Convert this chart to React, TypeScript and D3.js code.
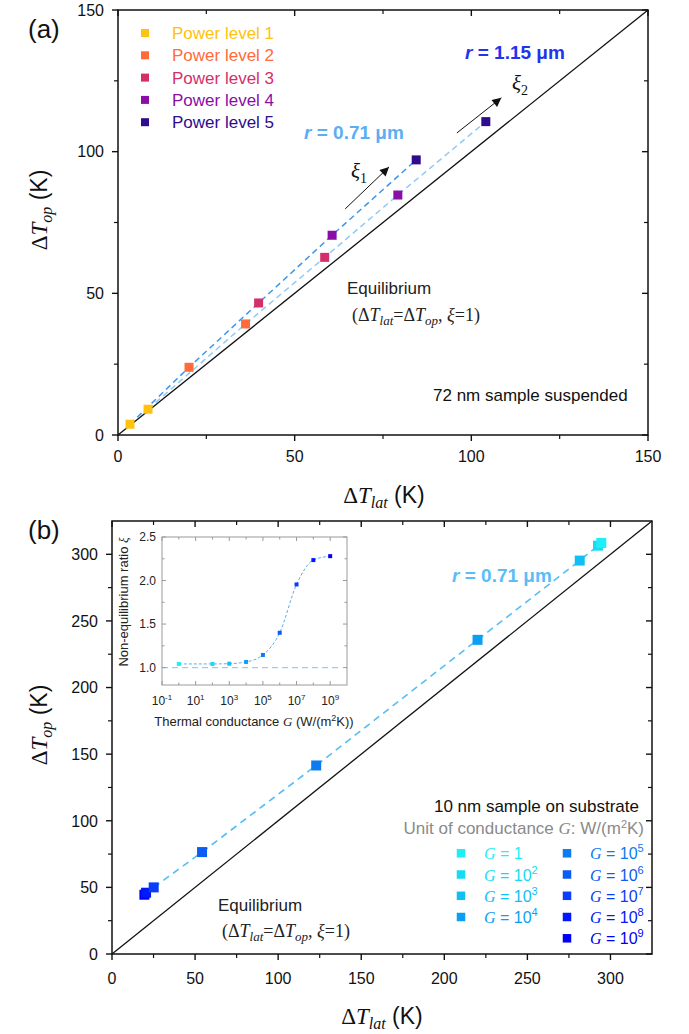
import React from 'react';
import * as d3 from 'd3';

const SANS = "'Liberation Sans', Arial, Helvetica, sans-serif";
const SERIF = "'Liberation Serif', 'Times New Roman', Times, serif";

// ---------- Panel (a) data ----------
const powerLabels = ['Power level 1', 'Power level 2', 'Power level 3', 'Power level 4', 'Power level 5'];
const powerColors = ['#FFC20E', '#FF6B3B', '#D42F6A', '#8A0DA8', '#2E0C8E'];
const r071Lat = [3.4, 20.1, 39.8, 60.6, 84.4];
const r071Op = [3.8, 23.9, 46.6, 70.5, 97.1];
const r115Lat = [8.5, 36.1, 58.5, 79.2, 104.1];
const r115Op = [9.1, 39.2, 62.7, 84.7, 110.6];
const aTicks = [0, 50, 100, 150];
const aMinor = [25, 75, 125];

// ---------- Panel (b) data ----------
const gExponents = [0, 2, 3, 4, 5, 6, 7, 8, 9];
const gColors = ['#1EEFF6', '#16DBF2', '#10C0F5', '#0A9FF2', '#0A7CF0', '#0A5CF5', '#0A3CFA', '#0018FA', '#0000F5'];
const bLat = [294.5, 292.5, 281.5, 220, 122.9, 54.2, 25.1, 20.5, 19.5];
const bOp = [308.5, 306.5, 295.3, 235.8, 141.5, 76.5, 50, 46, 44.5];
const xiRatio = [1.042, 1.042, 1.045, 1.065, 1.145, 1.4, 1.955, 2.235, 2.28];
const bTicks = [0, 50, 100, 150, 200, 250, 300];
const bMinor = [25, 75, 125, 175, 225, 275];
const insetXLabelExps = [-1, 1, 3, 5, 7, 9];
const insetXMinorExps = [0, 2, 4, 6, 8];
const insetYTicks = [1.0, 1.5, 2.0, 2.5];
const insetYMinor = [1.25, 1.75, 2.25];

// scales
const xA = d3.scaleLinear().domain([0, 150]).range([118, 648]);
const yA = d3.scaleLinear().domain([0, 150]).range([435, 10]);
const xB = d3.scaleLinear().domain([0, 325]).range([112, 652]);
const yB = d3.scaleLinear().domain([0, 325]).range([954, 521]);
const xI = d3.scaleLog().domain([1e-1, 1e10]).range([162, 347]);
const yI = d3.scaleLinear().domain([0.8, 2.5]).range([685, 537]);

type Lin = d3.ScaleLinear<number, number>;

function MainFrame({ x, y, ticks, minor, labelY }: { x: Lin; y: Lin; ticks: number[]; minor: number[]; labelY: number }) {
  const [l, r] = x.range();
  const [b, t] = y.range();
  const maj = 6;
  const mn = 4;
  return (
    <g>
      {ticks.map((v) => (
        <g key={'mx' + v}>
          <line x1={x(v)} x2={x(v)} y1={b} y2={b + maj} stroke="#111" strokeWidth={1.4} />
          <line x1={x(v)} x2={x(v)} y1={t} y2={t + maj} stroke="#111" strokeWidth={1.4} />
          <line y1={y(v)} y2={y(v)} x1={l} x2={l - maj} stroke="#111" strokeWidth={1.4} />
          <line y1={y(v)} y2={y(v)} x1={r} x2={r - maj} stroke="#111" strokeWidth={1.4} />
          <text x={x(v)} y={labelY} textAnchor="middle" fontFamily={SANS} fontSize={16} fill="#111">{v}</text>
          <text x={l - 14} y={y(v)} dy="0.36em" textAnchor="end" fontFamily={SANS} fontSize={16} fill="#111">{v}</text>
        </g>
      ))}
      {minor.map((v) => (
        <g key={'mn' + v}>
          <line x1={x(v)} x2={x(v)} y1={b} y2={b + mn} stroke="#111" strokeWidth={1.2} />
          <line x1={x(v)} x2={x(v)} y1={t} y2={t + mn} stroke="#111" strokeWidth={1.2} />
          <line y1={y(v)} y2={y(v)} x1={l} x2={l - mn} stroke="#111" strokeWidth={1.2} />
          <line y1={y(v)} y2={y(v)} x1={r} x2={r - mn} stroke="#111" strokeWidth={1.2} />
        </g>
      ))}
      <rect x={l} y={t} width={r - l} height={b - t} fill="none" stroke="#111" strokeWidth={1.5} />
    </g>
  );
}

function AxisTitleX({ cx, y, sub }: { cx: number; y: number; sub: string }) {
  return (
    <text x={cx} y={y} textAnchor="middle" fontSize={23} fill="#111">
      <tspan fontFamily={SERIF}>Δ</tspan>
      <tspan fontFamily={SERIF} fontStyle="italic">T</tspan>
      <tspan fontFamily={SERIF} fontStyle="italic" fontSize={16} dy={5}>{sub}</tspan>
      <tspan fontFamily={SANS} dy={-5}> (K)</tspan>
    </text>
  );
}

function AxisTitleY({ x, cy, sub }: { x: number; cy: number; sub: string }) {
  return (
    <text transform={`translate(${x},${cy}) rotate(-90)`} textAnchor="middle" fontSize={23} fill="#111">
      <tspan fontFamily={SERIF}>Δ</tspan>
      <tspan fontFamily={SERIF} fontStyle="italic">T</tspan>
      <tspan fontFamily={SERIF} fontStyle="italic" fontSize={16} dy={5}>{sub}</tspan>
      <tspan fontFamily={SANS} dy={-5}> (K)</tspan>
    </text>
  );
}

function EqText({ x, y }: { x: number; y: number }) {
  return (
    <text x={x} y={y} fontFamily={SERIF} fontSize={18} fill="#222">
      <tspan>(Δ</tspan>
      <tspan fontStyle="italic">T</tspan>
      <tspan fontStyle="italic" fontSize={13} dy={4}>lat</tspan>
      <tspan dy={-4}>=Δ</tspan>
      <tspan fontStyle="italic">T</tspan>
      <tspan fontStyle="italic" fontSize={13} dy={4}>op</tspan>
      <tspan dy={-4}>, </tspan>
      <tspan fontStyle="italic">ξ</tspan>
      <tspan>=1)</tspan>
    </text>
  );
}

function Sq({ cx, cy, s, fill }: { cx: number; cy: number; s: number; fill: string }) {
  return <rect x={cx - s / 2} y={cy - s / 2} width={s} height={s} fill={fill} />;
}

export default function App() {
  const lineA = d3.line<[number, number]>().x((d) => xA(d[0])).y((d) => yA(d[1]));
  const l071 = lineA(r071Lat.map((v, i) => [v, r071Op[i]]));
  const l115 = lineA(r115Lat.map((v, i) => [v, r115Op[i]]));

  const order = d3.range(bLat.length).sort((a, b) => bLat[a] - bLat[b]);
  const lineB = d3.line<number>().x((i) => xB(bLat[i])).y((i) => yB(bOp[i]));
  const lB = lineB(order.filter((i) => gExponents[i] <= 7));

  const lineI = d3
    .line<number>()
    .x((i) => xI(Math.pow(10, gExponents[i])))
    .y((i) => yI(xiRatio[i]))
    .curve(d3.curveMonotoneX);
  const lI = lineI(d3.range(gExponents.length));

  const [il, ir] = xI.range();
  const [ib, it] = yI.range();

  const legendCol1 = [0, 1, 2, 3];
  const legendCol2 = [4, 5, 6, 7, 8];
  const legRows = [853.3, 874.5, 895.8, 917, 938.3];

  const arrow1 = [[64.3, 79.8], [76.7, 94.6]];
  const arrow2 = [[95.9, 106.6], [108.5, 119]];

  const supText = (e: number) => (e === 0 ? null : e);

  return (
    <svg width={689} height={1034} style={{ position: 'absolute', left: 0, top: 0, background: '#fff' }}>
      <defs>
        <marker id="ah" viewBox="0 0 10 10" refX="10" refY="5" markerWidth="11" markerHeight="9" markerUnits="userSpaceOnUse" orient="auto">
          <path d="M0,0 L10,5 L0,10 z" fill="#111" />
        </marker>
      </defs>
      <rect x={0} y={0} width={689} height={1034} fill="#fff" />

      {/* ===== Panel (a) ===== */}
      <text x={28} y={38} fontFamily={SANS} fontSize={26} fill="#111">(a)</text>
      <line x1={xA(0)} y1={yA(0)} x2={xA(150)} y2={yA(150)} stroke="#111" strokeWidth={1.3} />
      <path d={l115 || ''} fill="none" stroke="#8FCBF4" strokeWidth={1.5} strokeDasharray="6,4" />
      <path d={l071 || ''} fill="none" stroke="#3E96EC" strokeWidth={1.5} strokeDasharray="6,4" />
      {r071Lat.map((v, i) => (
        <Sq key={'p1' + i} cx={xA(v)} cy={yA(r071Op[i])} s={9} fill={powerColors[i]} />
      ))}
      {r115Lat.map((v, i) => (
        <Sq key={'p2' + i} cx={xA(v)} cy={yA(r115Op[i])} s={9} fill={powerColors[i]} />
      ))}
      <MainFrame x={xA} y={yA} ticks={aTicks} minor={aMinor} labelY={462} />

      {powerLabels.map((lab, i) => (
        <g key={lab}>
          <Sq cx={145} cy={33 + i * 22.3} s={8} fill={powerColors[i]} />
          <text x={172} y={33 + i * 22.3 + 6} fontFamily={SANS} fontSize={17} fill={powerColors[i]}>{lab}</text>
        </g>
      ))}

      <text x={304} y={139} fontFamily={SANS} fontSize={19} fontWeight="bold" fill="#5AAEF5">
        <tspan fontStyle="italic">r</tspan> = 0.71 μm
      </text>
      <text x={465} y={59} fontFamily={SANS} fontSize={19} fontWeight="bold" fill="#2233EE">
        <tspan fontStyle="italic">r</tspan> = 1.15 μm
      </text>

      <line x1={xA(arrow1[0][0])} y1={yA(arrow1[0][1])} x2={xA(arrow1[1][0])} y2={yA(arrow1[1][1])} stroke="#111" strokeWidth={1} markerEnd="url(#ah)" />
      <line x1={xA(arrow2[0][0])} y1={yA(arrow2[0][1])} x2={xA(arrow2[1][0])} y2={yA(arrow2[1][1])} stroke="#111" strokeWidth={1} markerEnd="url(#ah)" />
      <text x={351} y={178} fontFamily={SERIF} fontSize={21} fill="#111">
        <tspan fontStyle="italic">ξ</tspan>
        <tspan fontSize={14} dy={5}>1</tspan>
      </text>
      <text x={512} y={90} fontFamily={SERIF} fontSize={21} fill="#111">
        <tspan fontStyle="italic">ξ</tspan>
        <tspan fontSize={14} dy={5}>2</tspan>
      </text>

      <text x={347} y={294} fontFamily={SANS} fontSize={17} fill="#222">Equilibrium</text>
      <EqText x={352} y={321} />
      <text x={433} y={401} fontFamily={SANS} fontSize={17} fill="#111">72 nm sample suspended</text>

      <AxisTitleX cx={384} y={503} sub="lat" />
      <AxisTitleY x={47} cy={210} sub="op" />

      {/* ===== Panel (b) ===== */}
      <text x={28} y={539} fontFamily={SANS} fontSize={26} fill="#111">(b)</text>
      <line x1={xB(0)} y1={yB(0)} x2={xB(325)} y2={yB(325)} stroke="#111" strokeWidth={1.3} />
      <path d={lB || ''} fill="none" stroke="#55BEF5" strokeWidth={1.6} strokeDasharray="7,5" />
      {order.map((i) => (
        <Sq key={'b' + i} cx={xB(bLat[i])} cy={yB(bOp[i])} s={10} fill={gColors[i]} />
      ))}
      <MainFrame x={xB} y={yB} ticks={bTicks} minor={bMinor} labelY={984} />

      <text x={452} y={582} fontFamily={SANS} fontSize={19} fontWeight="bold" fill="#5CBDF5">
        <tspan fontStyle="italic">r</tspan> = 0.71 μm
      </text>

      <text x={639} y={812} textAnchor="end" fontFamily={SANS} fontSize={17} fill="#111">10 nm sample on substrate</text>
      <text x={644} y={834} textAnchor="end" fontFamily={SANS} fontSize={17} fill="#8A8A8A">
        Unit of conductance <tspan fontFamily={SERIF} fontStyle="italic">G</tspan>: W/(m
        <tspan fontSize={11} dy={-6}>2</tspan>
        <tspan dy={6}>K)</tspan>
      </text>

      {[legendCol1, legendCol2].map((col, ci) =>
        col.map((idx, ri) => {
          const sx = ci === 0 ? 461 : 567;
          const tx = ci === 0 ? 484 : 590;
          const cy = legRows[ri];
          const e = gExponents[idx];
          return (
            <g key={'lg' + idx}>
              <Sq cx={sx} cy={cy} s={8.5} fill={gColors[idx]} />
              <text x={tx} y={cy + 6} fontSize={16} fill={gColors[idx]}>
                <tspan fontFamily={SERIF} fontStyle="italic">G</tspan>
                <tspan fontFamily={SANS}>{e === 0 ? ' = 1' : ' = 10'}</tspan>
                {supText(e) !== null && (
                  <tspan fontFamily={SANS} fontSize={11} dy={-7}>{e}</tspan>
                )}
              </text>
            </g>
          );
        })
      )}

      <text x={218} y={911} fontFamily={SANS} fontSize={17} fill="#222">Equilibrium</text>
      <EqText x={222} y={937} />

      <AxisTitleX cx={382} y={1024} sub="lat" />
      <AxisTitleY x={47} cy={725} sub="op" />

      {/* ===== Inset ===== */}
      <line x1={xI(1e-1)} x2={xI(1e9) + 10} y1={yI(1)} y2={yI(1)} stroke="#9ACDEE" strokeWidth={1.3} strokeDasharray="6,4" />
      <path d={lI || ''} fill="none" stroke="#5AAEF0" strokeWidth={1} strokeDasharray="3,2" />
      {gExponents.map((e, i) => (
        <Sq key={'in' + e} cx={xI(Math.pow(10, e))} cy={yI(xiRatio[i])} s={4} fill={gColors[i]} />
      ))}
      {insetXLabelExps.map((e) => {
        const px = xI(Math.pow(10, e));
        return (
          <g key={'ix' + e}>
            <line x1={px} x2={px} y1={ib} y2={ib - 4} stroke="#999" />
            <line x1={px} x2={px} y1={it} y2={it + 4} stroke="#999" />
            <text x={px} y={705} textAnchor="middle" fontFamily={SANS} fontSize={12} fill="#222">
              10<tspan fontSize={8} dy={-5}>{e}</tspan>
            </text>
          </g>
        );
      })}
      {insetXMinorExps.map((e) => {
        const px = xI(Math.pow(10, e));
        return (
          <g key={'ixm' + e}>
            <line x1={px} x2={px} y1={ib} y2={ib - 2.5} stroke="#999" />
            <line x1={px} x2={px} y1={it} y2={it + 2.5} stroke="#999" />
          </g>
        );
      })}
      {insetYTicks.map((v) => (
        <g key={'iy' + v}>
          <line x1={il} x2={il + 4} y1={yI(v)} y2={yI(v)} stroke="#999" />
          <line x1={ir} x2={ir - 4} y1={yI(v)} y2={yI(v)} stroke="#999" />
          <text x={156} y={yI(v)} dy="0.36em" textAnchor="end" fontFamily={SANS} fontSize={12} fill="#222">{v.toFixed(1)}</text>
        </g>
      ))}
      {insetYMinor.map((v) => (
        <g key={'iym' + v}>
          <line x1={il} x2={il + 2.5} y1={yI(v)} y2={yI(v)} stroke="#999" />
          <line x1={ir} x2={ir - 2.5} y1={yI(v)} y2={yI(v)} stroke="#999" />
        </g>
      ))}
      <rect x={il} y={it} width={ir - il} height={ib - it} fill="none" stroke="#9A9A9A" strokeWidth={1} />
      <text x={254} y={726} textAnchor="middle" fontFamily={SANS} fontSize={13} fill="#222">
        Thermal conductance <tspan fontFamily={SERIF} fontStyle="italic">G</tspan> (W/(m
        <tspan fontSize={9} dy={-5}>2</tspan>
        <tspan dy={5}>K))</tspan>
      </text>
      <text transform="translate(128,602) rotate(-90)" textAnchor="middle" fontFamily={SANS} fontSize={13} fill="#222">
        Non-equilibrium ratio <tspan fontFamily={SERIF} fontStyle="italic">ξ</tspan>
      </text>
    </svg>
  );
}
